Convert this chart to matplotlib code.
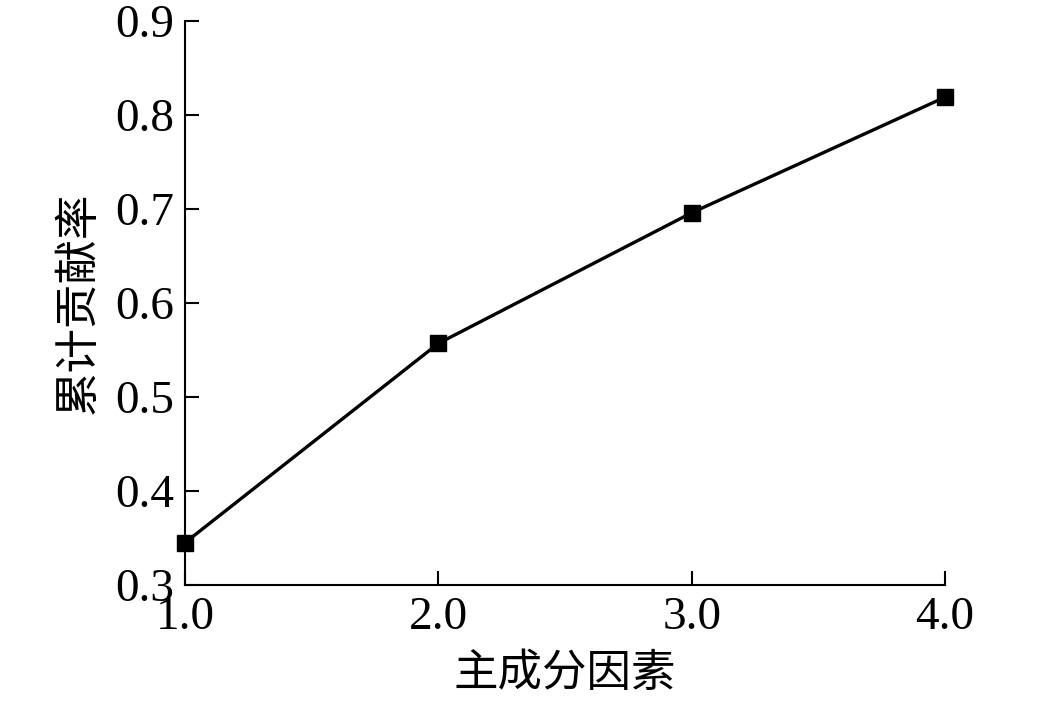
import matplotlib
matplotlib.use("Agg")
import matplotlib.pyplot as plt

plt.rcParams['font.family'] = ['Liberation Serif', 'Noto Sans CJK SC', 'DejaVu Sans']

factors = [1.0, 2.0, 3.0, 4.0]
cum_ratio = [0.345, 0.557, 0.696, 0.819]
x_ticks = [1.0, 2.0, 3.0, 4.0]
y_ticks = [0.3, 0.4, 0.5, 0.6, 0.7, 0.8, 0.9]

fig = plt.figure(figsize=(10.56, 7.09), dpi=100)
ax = fig.add_axes([0.1752, 0.1749, 0.895 - 0.1752, 0.9704 - 0.1749])

ax.plot(factors, cum_ratio, color='black', lw=2.4, marker='s', ms=11, clip_on=False)

ax.set_xlim(1.0, 4.0)
ax.set_ylim(0.3, 0.9)
ax.set_xticks(x_ticks)
ax.set_xticklabels([f"{v:.1f}" for v in x_ticks])
ax.set_yticks(y_ticks)
ax.set_yticklabels([f"{v:.1f}" for v in y_ticks])

for s in ['top', 'right']:
    ax.spines[s].set_visible(False)
for s in ['left', 'bottom']:
    ax.spines[s].set_linewidth(1.5)

ax.tick_params(direction='in', length=10, width=1.5, labelsize=34, pad=8)

ax.set_xlabel("主成分因素", fontsize=32, family=['Noto Sans CJK SC'], labelpad=8)
ax.set_ylabel("累计贡献率", fontsize=32, family=['Noto Sans CJK SC'], labelpad=10)

fig.savefig("out.png", dpi=100)
